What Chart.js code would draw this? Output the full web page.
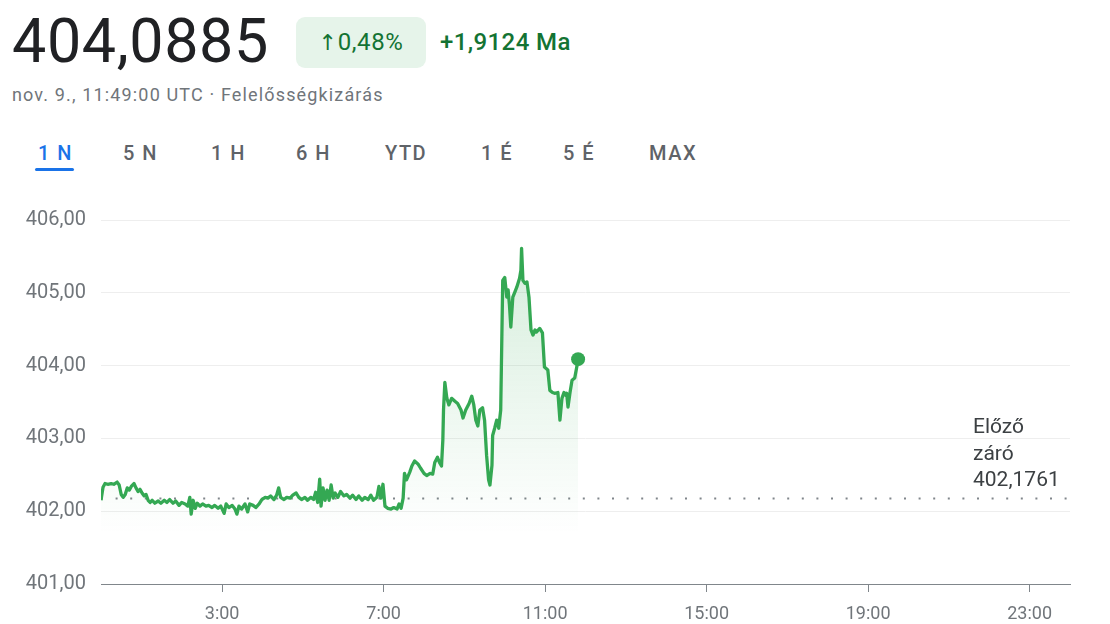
<!DOCTYPE html>
<html lang="hu">
<head>
<meta charset="utf-8">
<script src="https://cdn.jsdelivr.net/npm/chart.js@4.4.0/dist/chart.umd.min.js"></script>
<style>
  html, body { margin: 0; padding: 0; background: #fff; }
  body { width: 1110px; height: 624px; position: relative; overflow: hidden; font-family: Roboto, Arial, sans-serif; }
  .price { position: absolute; left: 12px; top: 5px; font-size: 61px; color: #202124; letter-spacing: 0.6px; }
  .badge { position: absolute; left: 296px; top: 17px; width: 130px; height: 51px; border-radius: 9px; background: #e6f4ea;
           color: #137333; font-size: 24px; line-height: 51px; text-align: center; letter-spacing: 0.6px; }
  .badge .arr { font-family: "DejaVu Sans", sans-serif; font-size: 22px; }
  .change { position: absolute; left: 440px; top: 28px; font-size: 24px; color: #137333; font-weight: 500; letter-spacing: 0.4px; }
  .sub { position: absolute; left: 12px; top: 84px; font-size: 18px; color: #70757a; letter-spacing: 1.15px; }
  .tab { position: absolute; top: 141px; font-size: 20px; font-weight: 500; color: #5f6368; letter-spacing: 1.5px; }
  .tab.on { color: #1a73e8; }
  .underline { position: absolute; left: 35px; top: 168px; width: 39px; height: 3px; border-radius: 2px; background: #1a73e8; }
  #wrap { position: absolute; left: 0; top: 190px; width: 1110px; height: 434px; }
  .prev { position: absolute; left: 973px; top: 413px; font-size: 21px; line-height: 26.5px; color: #3c4043; }
</style>
</head>
<body>
<div class="price">404,0885</div>
<div class="badge"><span class="arr">↑</span>0,48%</div>
<div class="change">+1,9124 Ma</div>
<div class="sub">nov. 9., 11:49:00 UTC · Felelősségkizárás</div>

<div class="tab on" style="left:38px">1 N</div>
<div class="tab" style="left:123px">5 N</div>
<div class="tab" style="left:211px">1 H</div>
<div class="tab" style="left:296px">6 H</div>
<div class="tab" style="left:385px">YTD</div>
<div class="tab" style="left:481px">1 É</div>
<div class="tab" style="left:563px">5 É</div>
<div class="tab" style="left:649px">MAX</div>
<div class="underline"></div>

<div id="wrap"><canvas id="chart"></canvas></div>
<div class="prev">Előző<br>záró<br>402,1761</div>

<script>
// minutes since midnight (UTC)
const minutes = [
  0, 3, 6, 10, 15, 19, 24, 27, 30, 33, 36, 39, 42, 45, 49, 52, 55, 58, 61, 64, 67, 70, 73,
  76, 80, 85, 89, 94, 98, 102, 107, 111, 116, 120, 125, 129, 132, 134, 137, 140, 143, 147,
  151, 156, 160, 165, 169, 174, 178, 183, 186, 190, 195, 199, 202, 205, 209, 214, 218, 221,
  226, 230, 235, 239, 244, 248, 252, 257, 261, 264, 267, 272, 276, 281, 285, 290, 294, 298,
  303, 307, 312, 316, 319, 322, 325, 327, 330, 333, 336, 339, 342, 345, 348, 352, 356, 361,
  365, 370, 374, 379, 383, 388, 392, 397, 401, 405, 410, 413, 416, 419, 422, 426, 431, 435,
  440, 443, 446, 449, 451, 454, 459, 462, 466, 471, 475, 480, 484, 489, 493, 496, 500, 503,
  506, 508, 509, 511, 514, 517, 521, 526, 530, 535, 538, 542, 547, 551, 554, 557, 560, 563,
  567, 570, 573, 576, 578, 581, 582, 585, 588, 591, 594, 597, 600, 603, 605, 607, 609, 612,
  615, 618, 622, 624, 625, 627, 630, 633, 636, 639, 642, 645, 647, 652, 656, 659, 664, 667,
  671, 674, 679, 682, 685, 688, 691, 692, 694, 697, 700, 704, 707, 709
];

const prices = [
  402.15, 402.33, 402.38, 402.37, 402.38, 402.37, 402.40, 402.36, 402.23, 402.19, 402.23, 402.32,
  402.29, 402.34, 402.38, 402.32, 402.27, 402.30, 402.25, 402.21, 402.23, 402.15, 402.12,
  402.15, 402.11, 402.14, 402.11, 402.15, 402.12, 402.16, 402.11, 402.14, 402.08, 402.12, 402.10,
  402.07, 402.19, 401.96, 402.15, 402.04, 402.11, 402.07,
  402.10, 402.07, 402.08, 402.05, 402.08, 402.04, 402.07, 401.97, 402.10, 402.05, 402.08, 402.03,
  401.96, 402.07, 402.03, 402.10, 401.99, 402.10,
  402.08, 402.05, 402.10, 402.16, 402.19, 402.18, 402.21, 402.16, 402.22, 402.32, 402.19, 402.16,
  402.19, 402.18, 402.22, 402.25, 402.19, 402.16,
  402.19, 402.15, 402.19, 402.16, 402.26, 402.12, 402.44, 402.07, 402.32, 402.15, 402.29, 402.15,
  402.36, 402.18, 402.25, 402.19, 402.27, 402.21,
  402.23, 402.18, 402.22, 402.16, 402.21, 402.15, 402.19, 402.16, 402.22, 402.15, 402.19, 402.34,
  402.18, 402.37, 402.07, 402.04, 402.03, 402.05,
  402.03, 402.10, 402.04, 402.18, 402.52, 402.43, 402.54, 402.62, 402.69, 402.65, 402.59, 402.52,
  402.49, 402.52, 402.51, 402.67, 402.74, 402.67,
  402.62, 402.98, 403.39, 403.77, 403.55, 403.46, 403.55, 403.51, 403.48, 403.39, 403.28, 403.39,
  403.48, 403.58, 403.46, 403.25, 403.17, 403.39,
  403.42, 403.25, 402.77, 402.43, 402.36, 402.63, 403.04, 403.14, 403.25, 403.14, 403.39, 405.17,
  405.21, 404.94, 405.04, 404.83, 404.53, 404.94,
  405.01, 405.08, 405.20, 405.31, 405.61, 405.17, 405.13, 405.15, 404.94, 404.49, 404.42, 404.49,
  404.46, 404.51, 404.45, 403.98, 403.94, 403.66,
  403.63, 403.62, 403.63, 403.25, 403.55, 403.63, 403.59, 403.62, 403.43, 403.63, 403.80, 403.83,
  403.98, 404.0885
];

const previousClose = 402.1761;
const xTicks = [180, 420, 660, 900, 1140, 1380]; // 3:00 ... 23:00
const yTicks = [401, 402, 403, 404, 405, 406];

const lastIdx = prices.length - 1;

new Chart(document.getElementById('chart'), {
  type: 'line',
  data: {
    datasets: [
      {
        data: minutes.map((m, i) => ({ x: m, y: prices[i] })),
        borderColor: '#34a853',
        borderWidth: 3.3,
        borderJoinStyle: 'round',
        tension: 0,
        pointRadius: ctx => ctx.dataIndex === lastIdx ? 7 : 0,
        pointBackgroundColor: '#34a853',
        pointBorderWidth: 0,
        fill: 'start',
        backgroundColor: ctx => {
          const area = ctx.chart.chartArea;
          if (!area) return 'rgba(52,168,83,0.1)';
          const g = ctx.chart.ctx.createLinearGradient(0, area.top + 30, 0, area.bottom - 50);
          g.addColorStop(0, 'rgba(52,168,83,0.2)');
          g.addColorStop(1, 'rgba(52,168,83,0)');
          return g;
        }
      },
      {
        data: [{ x: 0, y: previousClose }, { x: 1440, y: previousClose }],
        borderColor: '#80868b',
        borderWidth: 2,
        borderDash: [2, 12.6],
        pointRadius: 0,
        fill: false
      }
    ]
  },
  options: {
    responsive: true,
    maintainAspectRatio: false,
    animation: false,
    layout: { padding: { top: 30, right: 40, left: 0, bottom: 0 } },
    plugins: { legend: { display: false }, tooltip: { enabled: false } },
    scales: {
      x: {
        type: 'linear',
        min: 0,
        max: 1440,
        afterBuildTicks: axis => { axis.ticks = xTicks.map(v => ({ value: v })); },
        afterFit: axis => { axis.height = 40; },
        grid: { drawOnChartArea: false, drawTicks: true, tickLength: 8, color: '#80868b' },
        border: { display: true, color: '#80868b', width: 1 },
        ticks: {
          color: '#70757a',
          font: { family: 'Roboto', size: 18 },
          padding: 12,
          maxRotation: 0,
          callback: v => (v / 60) + ':00'
        }
      },
      y: {
        min: 401,
        max: 406,
        afterBuildTicks: axis => { axis.ticks = yTicks.map(v => ({ value: v })); },
        afterFit: axis => { axis.width = 101; },
        grid: { drawTicks: false, color: '#eeeeee' },
        border: { display: false },
        ticks: {
          color: '#70757a',
          font: { family: 'Roboto', size: 20 },
          padding: 15,
          callback: v => v.toFixed(2).replace('.', ',')
        }
      }
    }
  }
});
</script>
</body>
</html>
